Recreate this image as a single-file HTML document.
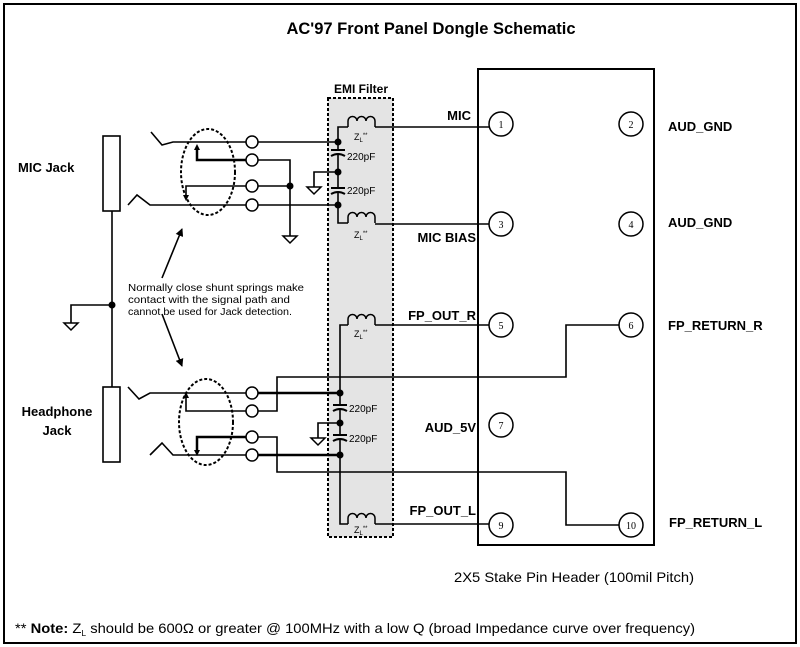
<!DOCTYPE html>
<html><head><meta charset="utf-8"><style>
html,body{margin:0;padding:0;background:#fff;}
svg{display:block;}
text{font-family:"Liberation Sans",Arial,sans-serif;}
</style></head><body>
<svg width="800" height="647" viewBox="0 0 800 647" xmlns="http://www.w3.org/2000/svg">
<defs>
<marker id="ah" markerWidth="8" markerHeight="8" refX="7" refY="4" orient="auto" markerUnits="userSpaceOnUse"><path d="M0,0 L8,4 L0,8 z" fill="#000"/></marker>
</defs>
<rect x="4" y="4" width="792" height="639" fill="none" stroke="#000" stroke-width="2"/>
<text x="431" y="34" font-family="Liberation Sans, sans-serif" font-size="16.5" font-weight="bold" text-anchor="middle">AC'97 Front Panel Dongle Schematic</text>

<rect x="328" y="98" width="65" height="439" fill="#e4e4e4" stroke="#000" stroke-width="2" stroke-dasharray="3,2"/>
<text x="361" y="93" font-size="12" font-weight="bold" text-anchor="middle">EMI Filter</text>

<rect x="478" y="69" width="176" height="476" fill="none" stroke="#000" stroke-width="2"/>
<g fill="#fff" stroke="#000" stroke-width="1.5">
<circle cx="501" cy="124" r="12"/><circle cx="631" cy="124" r="12"/>
<circle cx="501" cy="224" r="12"/><circle cx="631" cy="224" r="12"/>
<circle cx="501" cy="325" r="12"/><circle cx="631" cy="325" r="12"/>
<circle cx="501" cy="425" r="12"/>
<circle cx="501" cy="525" r="12"/><circle cx="631" cy="525" r="12"/>
</g>
<g font-size="10" text-anchor="middle">
<text x="501" y="128" style="font-family:'Liberation Serif',serif">1</text><text x="631" y="128" style="font-family:'Liberation Serif',serif">2</text>
<text x="501" y="228" style="font-family:'Liberation Serif',serif">3</text><text x="631" y="228" style="font-family:'Liberation Serif',serif">4</text>
<text x="501" y="329" style="font-family:'Liberation Serif',serif">5</text><text x="631" y="329" style="font-family:'Liberation Serif',serif">6</text>
<text x="501" y="429" style="font-family:'Liberation Serif',serif">7</text>
<text x="501" y="529" style="font-family:'Liberation Serif',serif">9</text><text x="631" y="529" style="font-family:'Liberation Serif',serif">10</text>
</g>
<g font-size="13" font-weight="bold">
<text x="668" y="131">AUD_GND</text>
<text x="668" y="227">AUD_GND</text>
<text x="668" y="330">FP_RETURN_R</text>
<text x="669" y="527">FP_RETURN_L</text>
<text x="471" y="120" text-anchor="end">MIC</text>
<text x="476" y="242" text-anchor="end">MIC BIAS</text>
<text x="476" y="320" text-anchor="end">FP_OUT_R</text>
<text x="476" y="432" text-anchor="end">AUD_5V</text>
<text x="476" y="515" text-anchor="end">FP_OUT_L</text>
<text x="18" y="172">MIC Jack</text>
<text x="57" y="416" text-anchor="middle">Headphone</text>
<text x="57" y="435" text-anchor="middle">Jack</text>
</g>
<text x="574" y="582" font-size="14" text-anchor="middle" textLength="240" lengthAdjust="spacingAndGlyphs">2X5 Stake Pin Header (100mil Pitch)</text>
<text x="15" y="633" font-size="14" textLength="680" lengthAdjust="spacingAndGlyphs">** <tspan font-weight="bold">Note:</tspan>  Z<tspan font-size="8" dy="3">L</tspan><tspan dy="-3"> should be 600Ω or greater @ 100MHz with a low Q (broad Impedance curve over frequency)</tspan></text>

<g fill="none" stroke="#000" stroke-width="1.6">
<rect x="103" y="136" width="17" height="75" fill="#fff"/>
<rect x="103" y="387" width="17" height="75" fill="#fff"/>
<path d="M112,211 V387"/>
<path d="M112,305 H71 V323"/>
<path d="M151,132 L162,145 L173,142 H246"/>
<path d="M128,205 L137,195 L150,205 H246"/>
<path d="M258,142 H338"/>
<path d="M258,160 H290 V236"/>
<path d="M258,186 H290"/>
<path d="M258,205 H338"/>
<path d="M246,160 H197 V147" stroke-width="2.5"/>
<path d="M246,186 H186 V198"/>
<path d="M338,142 V127 H348"/>
<path d="M375,127 H489"/>
<path d="M338,142 V150 M338,155 V188 M338,193 V223 H348"/>
<path d="M375,224 H489"/>
<path d="M338,172 H314 V187"/>
<path d="M128,387 L139,399 L150,393 H246"/>
<path d="M258,393 H340" stroke-width="2.5"/>
<path d="M258,411 H277 V377 H566 V325 H619"/>
<path d="M246,411 H186 V395"/>
<path d="M246,437 H197 V453" stroke-width="2.5"/>
<path d="M258,437 H277 V472 H566 V525 H619"/>
<path d="M150,455 L162,443 L173,455 H246"/>
<path d="M258,455 H340" stroke-width="2.5"/>
<path d="M340,393 V325 H348"/>
<path d="M375,325 H489"/>
<path d="M340,393 V405 M340,410 V435 M340,440 V524 H348"/>
<path d="M375,524 H489"/>
<path d="M340,423 H318 V438"/>
<path d="M162,278 L182,229" marker-end="url(#ah)"/>
<path d="M162,314 L182,366" marker-end="url(#ah)"/>
</g>
<g fill="#000">
<path d="M197,144 l-3,6 h6z"/><path d="M186,201 l-3,-6 h6z"/>
<path d="M186,392 l-3,6 h6z"/><path d="M197,456 l-3,-6 h6z"/>
</g>
<g fill="#fff" stroke="#000" stroke-width="1.5">
<circle cx="252" cy="142" r="6"/><circle cx="252" cy="160" r="6"/>
<circle cx="252" cy="186" r="6"/><circle cx="252" cy="205" r="6"/>
<circle cx="252" cy="393" r="6"/><circle cx="252" cy="411" r="6"/>
<circle cx="252" cy="437" r="6"/><circle cx="252" cy="455" r="6"/>
</g>
<g fill="none" stroke="#000" stroke-width="2" stroke-dasharray="3,2">
<ellipse cx="208" cy="172" rx="27" ry="43"/>
<ellipse cx="206" cy="422" rx="27" ry="43"/>
</g>
<g fill="#000">
<circle cx="112" cy="305" r="3.5"/>
<circle cx="290" cy="186" r="3.5"/>
<circle cx="338" cy="142" r="3.5"/><circle cx="338" cy="172" r="3.5"/><circle cx="338" cy="205" r="3.5"/>
<circle cx="340" cy="393" r="3.5"/><circle cx="340" cy="423" r="3.5"/><circle cx="340" cy="455" r="3.5"/>
</g>
<g fill="#fff" stroke="#000" stroke-width="1.5">
<path d="M64,323 h14 l-7,7z"/>
<path d="M283,236 h14 l-7,7z"/>
<path d="M307,187 h14 l-7,7z"/>
<path d="M311,438 h14 l-7,7z"/>
</g>
<g fill="none" stroke="#000" stroke-width="2">
<path d="M331,150 h14 M331,156 q7,-4 14,0"/>
<path d="M331,188 h14 M331,194 q7,-4 14,0"/>
<path d="M333,405 h14 M333,411 q7,-4 14,0"/>
<path d="M333,435 h14 M333,441 q7,-4 14,0"/>
</g>
<g font-size="10">
<text x="347" y="160">220pF</text><text x="347" y="194">220pF</text>
<text x="349" y="412">220pF</text><text x="349" y="442">220pF</text>
</g>
<g fill="none" stroke="#000" stroke-width="1.5">
<path d="M348,127 v-6 a4.5,4.5 0 0 1 9,0 a4.5,4.5 0 0 1 9,0 a4.5,4.5 0 0 1 9,0 v6"/>
<path d="M348,223 v-6 a4.5,4.5 0 0 1 9,0 a4.5,4.5 0 0 1 9,0 a4.5,4.5 0 0 1 9,0 v6"/>
<path d="M348,325 v-6 a4.5,4.5 0 0 1 9,0 a4.5,4.5 0 0 1 9,0 a4.5,4.5 0 0 1 9,0 v6"/>
<path d="M348,524 v-6 a4.5,4.5 0 0 1 9,0 a4.5,4.5 0 0 1 9,0 a4.5,4.5 0 0 1 9,0 v6"/>
</g>
<g font-size="9">
<text x="354" y="140">Z<tspan font-size="6" dy="2">L</tspan><tspan font-size="6" dy="-5">**</tspan></text>
<text x="354" y="238">Z<tspan font-size="6" dy="2">L</tspan><tspan font-size="6" dy="-5">**</tspan></text>
<text x="354" y="337">Z<tspan font-size="6" dy="2">L</tspan><tspan font-size="6" dy="-5">**</tspan></text>
<text x="354" y="533">Z<tspan font-size="6" dy="2">L</tspan><tspan font-size="6" dy="-5">**</tspan></text>
</g>
<g font-size="10.5">
<text x="128" y="291" textLength="176" lengthAdjust="spacingAndGlyphs">Normally close shunt springs make</text>
<text x="128" y="303" textLength="162" lengthAdjust="spacingAndGlyphs">contact with the signal path and</text>
<text x="128" y="315" textLength="164" lengthAdjust="spacingAndGlyphs">cannot be used for Jack detection.</text>
</g>
</svg>
</body></html>
